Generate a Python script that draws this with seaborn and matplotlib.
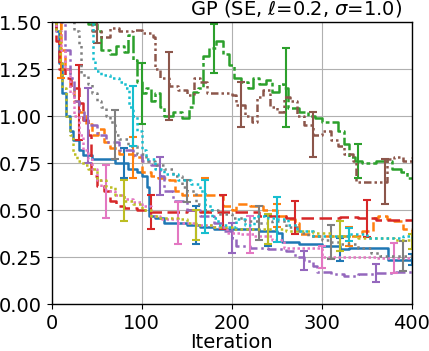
import matplotlib
matplotlib.use("Agg")
import matplotlib.pyplot as plt
import numpy as np
import pandas as pd
import seaborn as sns

# ---------------- data ----------------
s0_iter = [0, 5, 8, 12, 16, 20, 24, 30, 35, 45, 55, 70, 85, 95, 100, 106, 108, 115, 125, 150, 165, 180, 200, 230, 250, 256, 275, 300, 320, 330, 345, 372, 374, 400]
s0_val = [1.6, 1.45, 1.28, 1.12, 1.0, 0.92, 0.87, 0.82, 0.79, 0.77, 0.77, 0.75, 0.72, 0.70, 0.68, 0.62, 0.47, 0.46, 0.43, 0.42, 0.41, 0.40, 0.40, 0.39, 0.38, 0.33, 0.32, 0.31, 0.29, 0.30, 0.30, 0.30, 0.235, 0.235]

s1_iter = [0, 5, 10, 15, 20, 25, 30, 38, 45, 52, 58, 65, 75, 90, 100, 110, 118, 130, 137, 145, 185, 190, 200, 205, 220, 235, 250, 260, 270, 275, 290, 340, 345, 357, 362, 372, 380, 390, 400]
s1_val = [1.6, 1.5, 1.35, 1.25, 1.15, 1.08, 1.02, 0.96, 0.90, 0.93, 0.86, 0.83, 0.80, 0.78, 0.70, 0.68, 0.67, 0.66, 0.60, 0.58, 0.58, 0.52, 0.50, 0.53, 0.52, 0.50, 0.47, 0.45, 0.43, 0.37, 0.36, 0.36, 0.39, 0.46, 0.47, 0.45, 0.44, 0.40, 0.37]

s2_iter = [0, 35, 40, 50, 55, 65, 72, 80, 85, 90, 95, 100, 105, 110, 115, 120, 125, 135, 145, 152, 157, 163, 168, 175, 182, 190, 197, 202, 210, 218, 224, 230, 238, 245, 252, 258, 262, 275, 285, 292, 300, 310, 318, 325, 330, 337, 345, 360, 372, 378, 388, 395, 400]
s2_val = [1.7, 1.55, 1.49, 1.45, 1.35, 1.33, 1.37, 1.34, 1.43, 1.30, 1.18, 1.12, 1.15, 1.08, 1.12, 1.05, 1.0, 1.02, 0.99, 1.05, 1.13, 1.15, 1.32, 1.36, 1.40, 1.33, 1.27, 1.20, 1.18, 1.15, 1.20, 1.17, 1.19, 1.13, 1.17, 1.15, 1.04, 1.02, 1.0, 0.99, 0.97, 0.97, 0.92, 0.85, 0.78, 0.76, 0.75, 0.76, 0.76, 0.72, 0.70, 0.67, 0.67]

s3_iter = [0, 5, 8, 15, 22, 30, 35, 40, 44, 50, 58, 65, 72, 80, 95, 110, 150, 165, 190, 200, 230, 260, 300, 320, 340, 360, 400]
s3_val = [1.6, 1.4, 1.25, 1.2, 1.15, 1.07, 0.98, 0.90, 0.68, 0.63, 0.60, 0.55, 0.52, 0.51, 0.50, 0.49, 0.50, 0.49, 0.49, 0.49, 0.47, 0.46, 0.46, 0.465, 0.455, 0.445, 0.445]

s4_iter = [0, 10, 15, 20, 25, 30, 36, 40, 50, 60, 75, 90, 100, 110, 120, 125, 135, 150, 165, 180, 190, 200, 205, 220, 240, 260, 270, 280, 290, 295, 310, 325, 340, 360, 380, 400]
s4_val = [1.6, 1.5, 1.35, 1.2, 1.08, 1.02, 0.97, 0.95, 0.90, 0.86, 0.82, 0.79, 0.76, 0.74, 0.68, 0.60, 0.55, 0.50, 0.47, 0.43, 0.39, 0.35, 0.31, 0.30, 0.29, 0.28, 0.25, 0.23, 0.20, 0.17, 0.16, 0.15, 0.16, 0.165, 0.17, 0.165]

s5_iter = [0, 30, 40, 45, 55, 65, 75, 90, 100, 113, 115, 120, 130, 140, 150, 158, 165, 172, 185, 200, 205, 215, 222, 228, 235, 242, 250, 258, 265, 272, 280, 290, 300, 310, 318, 325, 335, 338, 360, 372, 380, 390, 400]
s5_val = [1.7, 1.6, 1.52, 1.45, 1.42, 1.47, 1.45, 1.46, 1.44, 1.42, 1.25, 1.20, 1.16, 1.14, 1.11, 1.20, 1.18, 1.12, 1.12, 1.11, 1.06, 1.0, 0.97, 1.10, 1.14, 1.05, 1.02, 1.10, 1.08, 1.0, 0.95, 0.90, 0.92, 0.87, 0.84, 0.80, 0.76, 0.65, 0.65, 0.77, 0.78, 0.76, 0.78]

s6_iter = [0, 5, 10, 15, 20, 25, 30, 35, 40, 45, 50, 55, 60, 70, 80, 90, 100, 110, 120, 140, 160, 180, 195, 210, 225, 245, 258, 290, 300, 330, 360, 400]
s6_val = [1.6, 1.45, 1.35, 1.25, 1.12, 1.0, 0.90, 0.82, 0.77, 0.72, 0.66, 0.62, 0.60, 0.58, 0.56, 0.54, 0.52, 0.47, 0.45, 0.43, 0.42, 0.41, 0.38, 0.37, 0.36, 0.34, 0.30, 0.30, 0.25, 0.25, 0.245, 0.245]

s7_iter = [0, 15, 20, 25, 30, 33, 40, 45, 50, 55, 60, 65, 70, 75, 85, 95, 105, 115, 125, 135, 145, 150, 160, 170, 185, 200, 215, 230, 245, 260, 275, 285, 300, 310, 320, 340, 355, 365, 400]
s7_val = [1.7, 1.6, 1.5, 1.45, 1.38, 1.22, 1.17, 1.12, 1.08, 1.05, 1.0, 0.97, 0.90, 0.88, 0.84, 0.80, 0.76, 0.74, 0.72, 0.68, 0.62, 0.60, 0.53, 0.50, 0.48, 0.46, 0.44, 0.43, 0.44, 0.41, 0.38, 0.36, 0.34, 0.33, 0.32, 0.30, 0.27, 0.255, 0.255]

s8_iter = [0, 5, 9, 12, 16, 20, 24, 28, 35, 40, 50, 60, 70, 80, 90, 100, 110, 120, 140, 150, 160, 180, 200, 240, 260, 290, 310, 340, 380, 400]
s8_val = [1.6, 1.45, 1.3, 1.15, 1.0, 0.9, 0.80, 0.76, 0.74, 0.72, 0.66, 0.62, 0.58, 0.55, 0.53, 0.50, 0.47, 0.46, 0.45, 0.43, 0.42, 0.41, 0.40, 0.40, 0.39, 0.38, 0.36, 0.35, 0.34, 0.335]

s9_iter = [0, 40, 43, 46, 48, 55, 65, 75, 82, 86, 90, 95, 100, 105, 115, 125, 140, 155, 165, 170, 178, 185, 195, 205, 215, 225, 240, 250, 262, 272, 290, 310, 330, 350, 370, 390, 400]
s9_val = [1.7, 1.6, 1.5, 1.3, 1.24, 1.22, 1.20, 1.18, 1.15, 1.05, 1.0, 0.92, 0.82, 0.77, 0.72, 0.69, 0.66, 0.64, 0.60, 0.52, 0.46, 0.42, 0.41, 0.45, 0.42, 0.47, 0.46, 0.45, 0.42, 0.39, 0.36, 0.36, 0.37, 0.35, 0.35, 0.36, 0.35]

# error-bar half widths at iterations offset + 80k
err_offsets = [0, 10, 20, 30, 40, 50, 60, 70, 80, 10]
s0_err = [0.0, 0.08, 0.10, 0.08, 0.06, 0.03]
s1_err = [0.15, 0.11, 0.09, 0.06, 0.05]
s2_err = [0.0, 0.16, 0.13, 0.21, 0.09]
s3_err = [0.20, 0.09, 0.09, 0.09, 0.10]
s4_err = [0.20, 0.10, 0.08, 0.05, 0.05]
s5_err = [0.06, 0.18, 0.12, 0.12, 0.12]
s6_err = [0.14, 0.11, 0.10, 0.06, 0.08]
s7_err = [0.13, 0.06, 0.09, 0.09, 0.08]
s8_err = [0.11, 0.08, 0.08, 0.08, 0.04]
s9_err = [0.0, 0.16, 0.14, 0.12, 0.035]

x_ticks = [0, 100, 200, 300, 400]
y_ticks = [0.0, 0.25, 0.5, 0.75, 1.0, 1.25, 1.5]
title_text = r"GP (SE, $\ell$=0.2, $\sigma$=1.0)"
x_label = "Iteration"

# ---------------- styling ----------------
sns.set_style("ticks", {"axes.grid": True, "grid.color": "#b0b0b0",
                        "axes.edgecolor": "black"})
plt.rcParams["font.family"] = ["DejaVu Sans"]
plt.rcParams.update({
    "font.size": 14,
    "axes.linewidth": 1.0,
    "grid.linewidth": 0.8,
    "xtick.major.size": 3.5, "ytick.major.size": 3.5,
    "xtick.major.width": 0.8, "ytick.major.width": 0.8,
    "xtick.labelsize": 14, "ytick.labelsize": 14,
    "xtick.color": "black", "ytick.color": "black",
    "text.color": "black", "axes.labelcolor": "black",
})

palette = sns.color_palette("tab10")
linestyles = ["-", "--", (0, (7, 1.2, 1.5, 1.2)), (0, (5, 2.2)), (0, (4, 1.5, 1, 1.5)),
              (0, (3, 1.2, 1, 1.2, 1, 1.2)), (0, (1, 1)), (0, (1, 1.5)), (0, (1, 1.3)), (0, (1, 1.3))]

series = [(s0_iter, s0_val, s0_err), (s1_iter, s1_val, s1_err), (s2_iter, s2_val, s2_err),
          (s3_iter, s3_val, s3_err), (s4_iter, s4_val, s4_err), (s5_iter, s5_val, s5_err),
          (s6_iter, s6_val, s6_err), (s7_iter, s7_val, s7_err), (s8_iter, s8_val, s8_err),
          (s9_iter, s9_val, s9_err)]

fig = plt.figure(figsize=(4.29, 3.51), dpi=100)
ax = fig.add_axes([0.1205, 0.1339, 0.8392, 0.8034])

for i, (its, vals, errs) in enumerate(series):
    df = pd.DataFrame({"Iteration": its, "value": vals})
    sns.lineplot(data=df, x="Iteration", y="value", color=palette[i], linestyle=linestyles[i],
                 drawstyle="steps-post", lw=1.8, estimator=None, sort=False, ax=ax, zorder=2 + i * 0.01)
    ex = [err_offsets[i] + 80 * k for k in range(len(errs))]
    its_arr = np.asarray(its)
    ey = [vals[np.searchsorted(its_arr, x, side="right") - 1] for x in ex]
    keep = [k for k in range(len(errs)) if errs[k] > 0 and ex[k] <= 400]
    ax.errorbar([ex[k] for k in keep], [ey[k] for k in keep], yerr=[errs[k] for k in keep],
                fmt="none", ecolor=palette[i], elinewidth=1.5, capsize=3, capthick=1.5,
                zorder=2 + i * 0.01)

ax.set_xlim(0, 400)
ax.set_ylim(0, 1.5)
ax.set_xticks(x_ticks)
ax.set_yticks(y_ticks)
ax.set_yticklabels([f"{v:.2f}" for v in y_ticks])
ax.set_xlabel(x_label, fontsize=14, labelpad=0.5)
ax.set_ylabel("")
for s in ax.spines.values():
    s.set_visible(True)
    s.set_color("black")
ax.text(0.972, 1.025, title_text, transform=ax.transAxes, ha="right", va="baseline", fontsize=14)

fig.savefig("out.png", dpi=100)
